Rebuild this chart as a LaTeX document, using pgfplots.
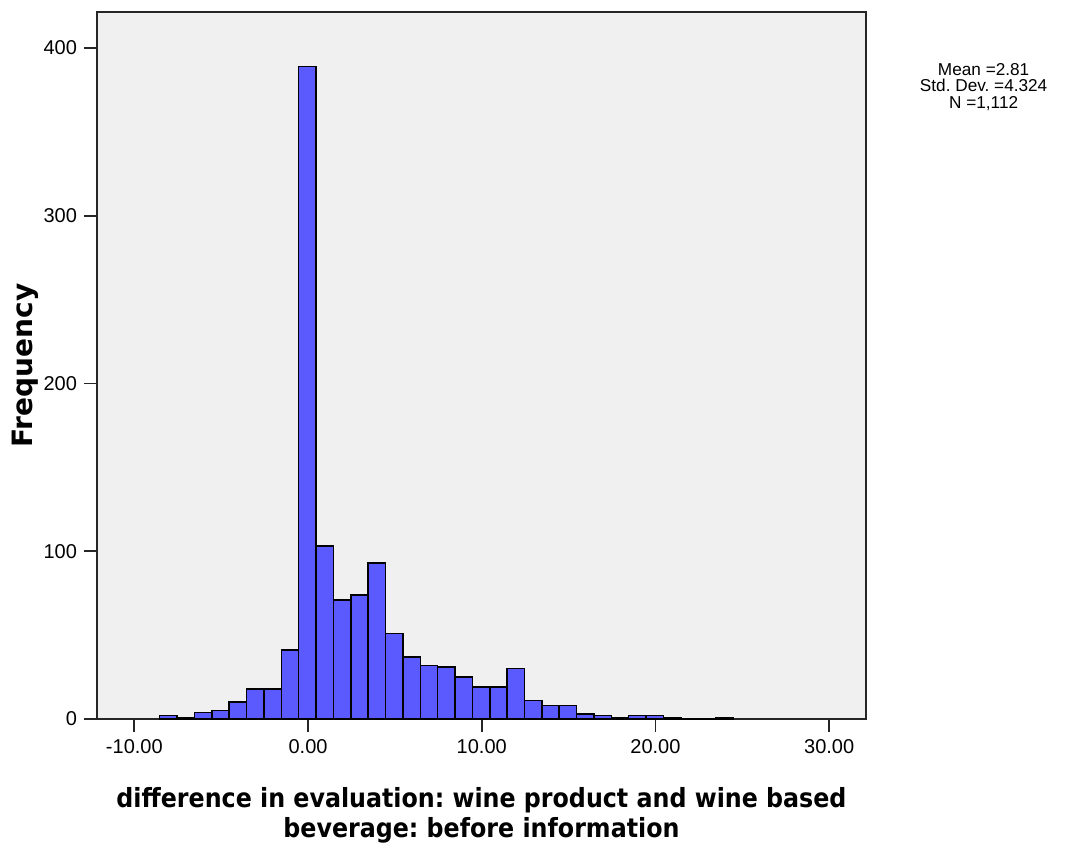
\documentclass[border=0pt]{standalone}
\usepackage{fontspec}
\setmainfont{Liberation Sans}
\newfontfamily\labfont{DejaVu Sans}
\newfontfamily\condfont{DejaVu Sans Condensed}
\usepackage{pgfplots}
\pgfplotsset{compat=1.18}
\definecolor{barblue}{RGB}{90,90,255}
\definecolor{panel}{RGB}{240,240,240}
\frenchspacing

\begin{document}
\begin{tikzpicture}
\path[use as bounding box] (-48.5pt,-63.5pt) rectangle (493pt,359.5pt);
\begin{axis}[
scale only axis,
width=384.5pt,height=353.5pt,
xmin=-12.15,xmax=32.12,
ymin=0,ymax=421.5,
axis background/.style={fill=panel},
axis line style={black!85,line width=1pt},
xtick={-10,0,10,20,30},
ytick={0,100,200,300,400},
tick align=outside,
major tick length=6.5pt,
tick style={black!85,line width=0.9pt},
xtick pos=bottom,ytick pos=left,
minor tick num=0,
/pgf/number format/assume math mode=true,
xticklabel style={/pgf/number format/.cd,fixed,fixed zerofill,precision=2},
yticklabel style={/pgf/number format/.cd,fixed,precision=0},
tick label style={font=\fontsize{10}{12}\selectfont},
xlabel={difference in evaluation: wine product and wine based\\beverage: before information},
xlabel style={at={(axis description cs:0.5,-0.136)},anchor=center,align=center,
  font=\condfont\bfseries\fontsize{13.2}{15}\selectfont},
ylabel={Frequency},
ylabel style={at={(axis description cs:-0.0936,0.5)},anchor=center,
  font=\labfont\bfseries\fontsize{14}{15}\selectfont},
clip=false,
]
\addplot[ybar interval,fill=barblue,draw=black,line width=0.75pt] coordinates {
(-8.54,2) (-7.54,1) (-6.54,4) (-5.54,5) (-4.54,10) (-3.54,18) (-2.54,18)
(-1.54,41) (-0.54,389) (0.46,103) (1.46,71) (2.46,74) (3.46,93)
(4.46,51) (5.46,37) (6.46,32) (7.46,31) (8.46,25) (9.46,19) (10.46,19)
(11.46,30) (12.46,11) (13.46,8) (14.46,8) (15.46,3) (16.46,2) (17.46,1)
(18.46,2) (19.46,2) (20.46,1) (21.46,0) (22.46,0) (23.46,1) (24.46,0)
};
\node[align=center,font=\fontsize{8.6}{8.4}\selectfont,anchor=center,inner sep=0pt]
  at (axis description cs:1.153,0.894) {Mean =2.81\\Std. Dev. =4.324\\N =1,112};
\end{axis}
\end{tikzpicture}
\end{document}
